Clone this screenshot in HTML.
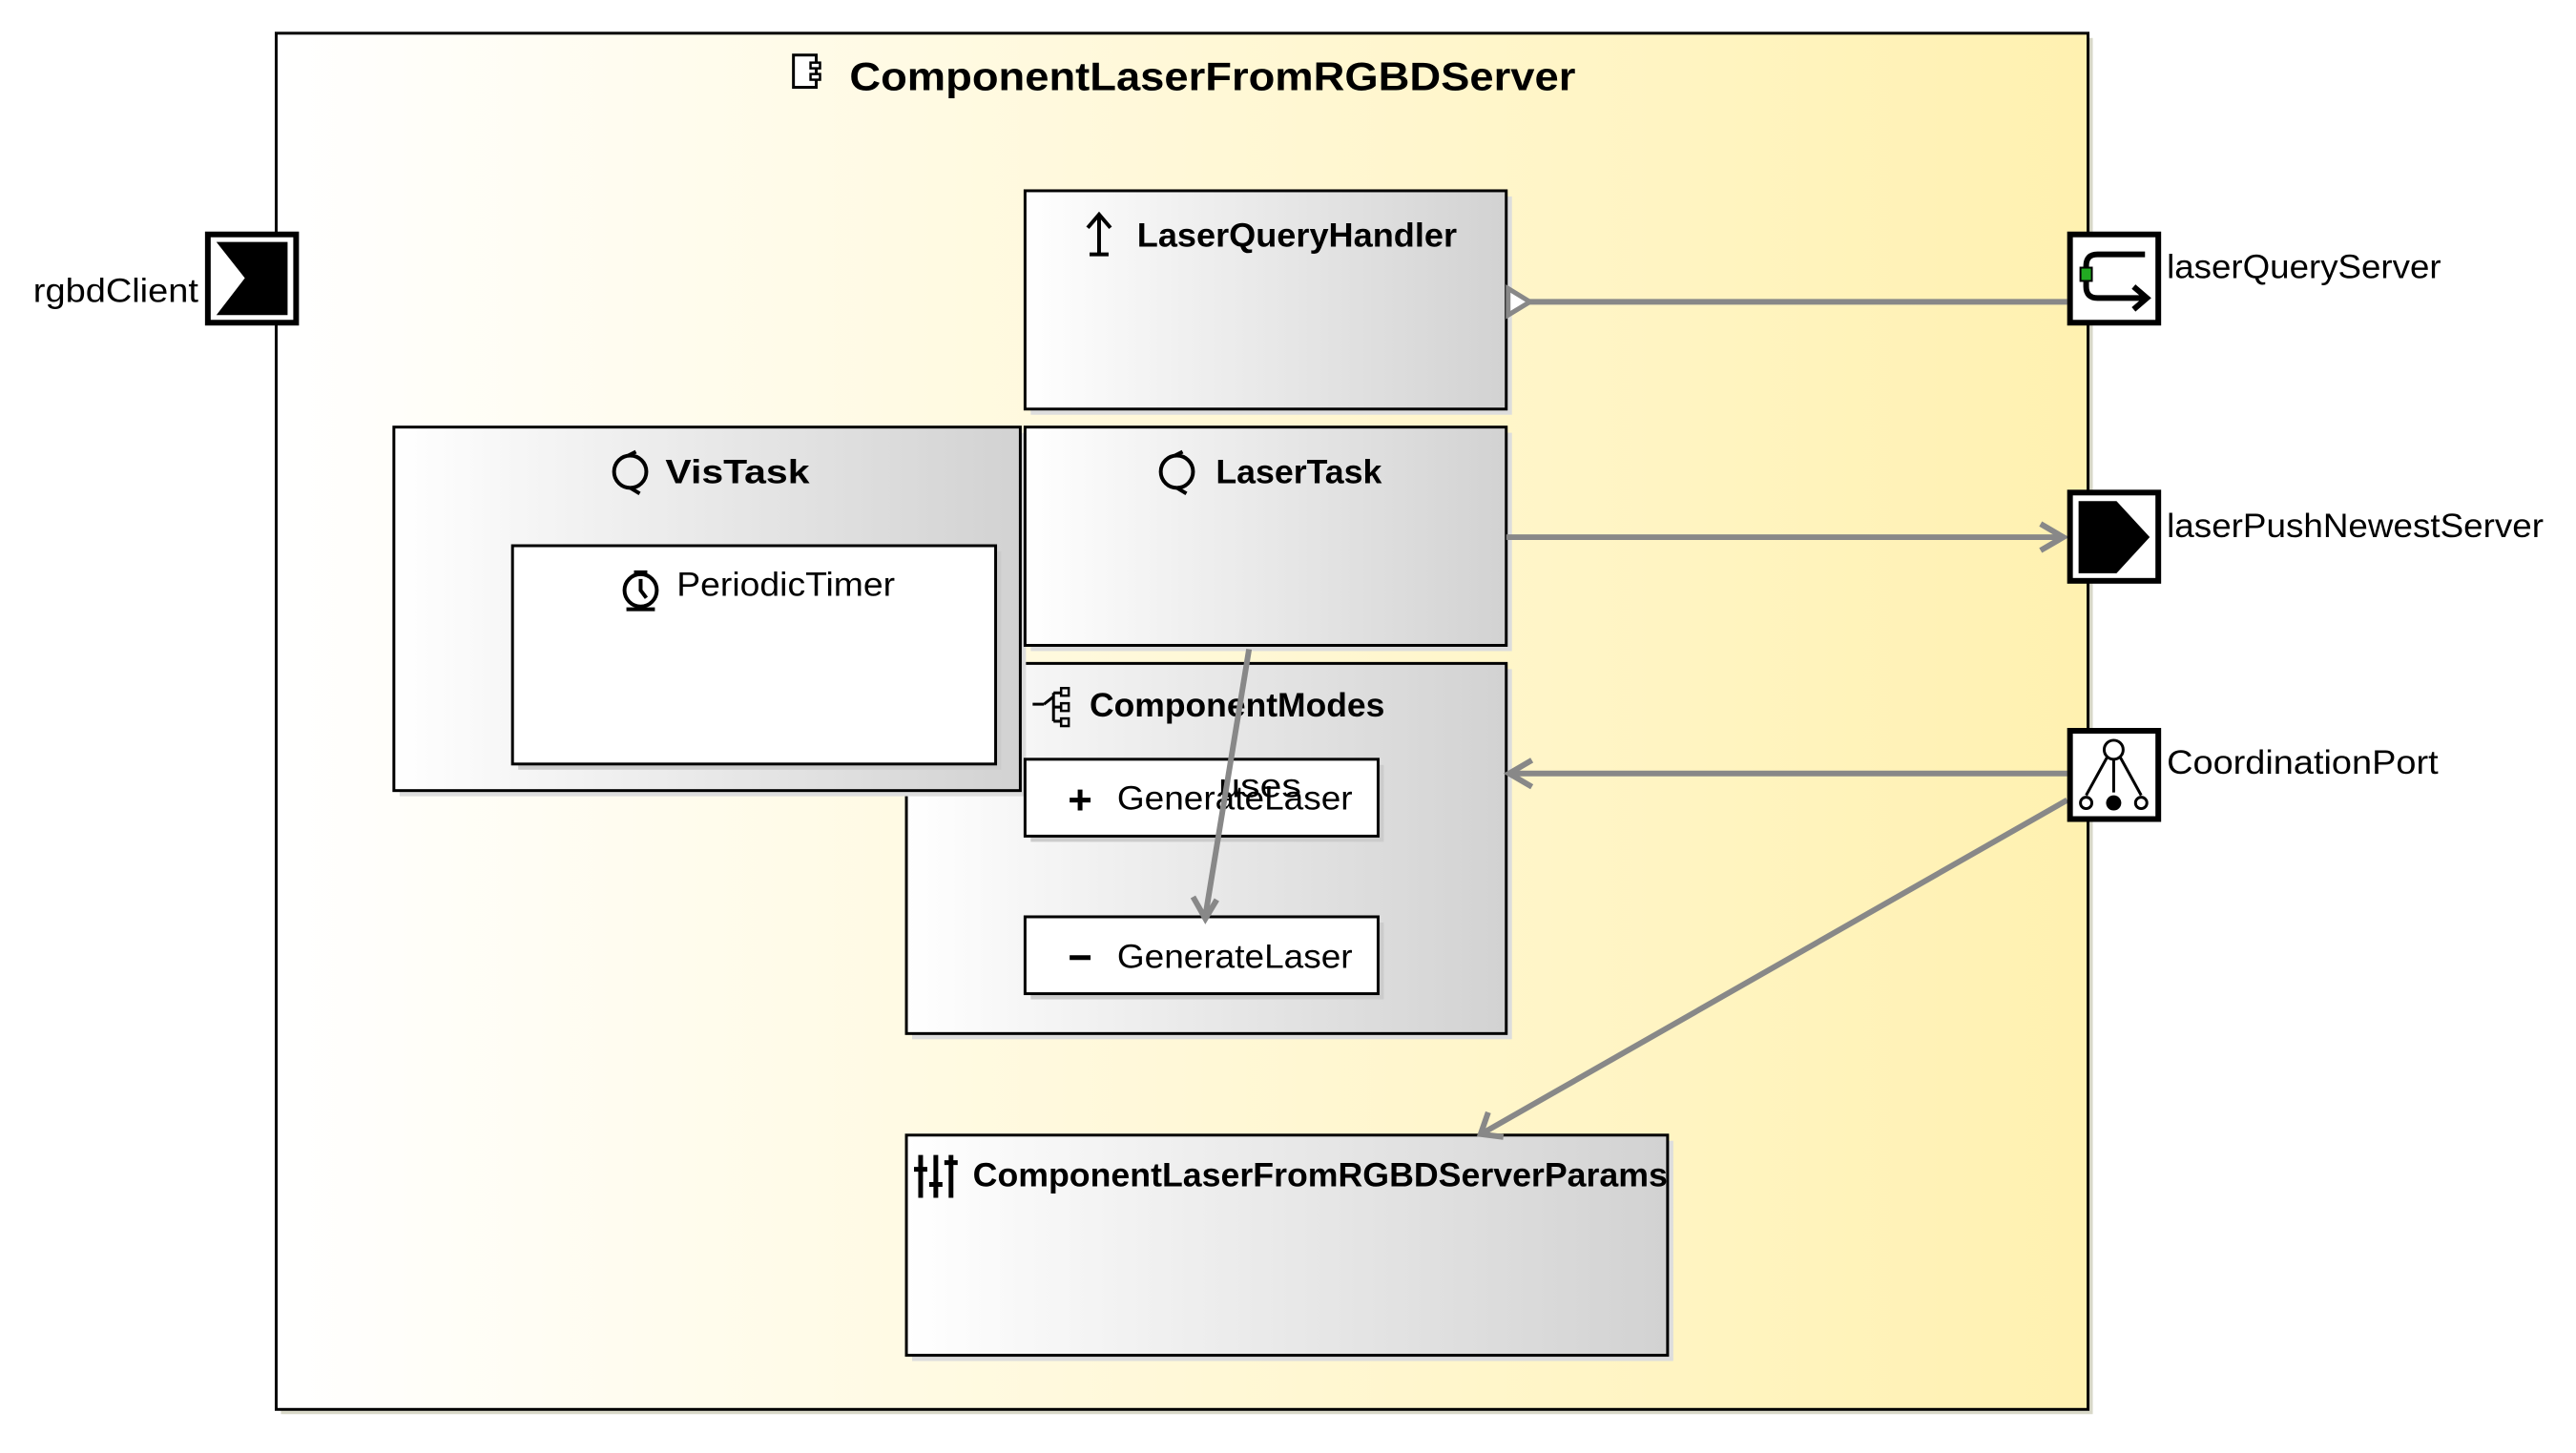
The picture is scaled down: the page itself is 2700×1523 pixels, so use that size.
<!DOCTYPE html>
<html><head><meta charset="utf-8"><style>
html,body{margin:0;padding:0;background:#fff;}
svg{display:block;font-family:"Liberation Sans","DejaVu Sans",sans-serif;}
</style></head><body>
<svg width="2700" height="1523" viewBox="0 0 2700 1523" xmlns="http://www.w3.org/2000/svg">
<defs>
<linearGradient id="yel" x1="0" x2="1" y1="0" y2="0"><stop offset="0" stop-color="#ffffff"/><stop offset="1" stop-color="#fff1b0"/></linearGradient>
<linearGradient id="gr" x1="0" x2="1" y1="0" y2="0"><stop offset="0" stop-color="#ffffff"/><stop offset="1" stop-color="#d2d2d2"/></linearGradient>
</defs>
<g transform="scale(0.9948)">
<!-- outer -->
<rect x="296" y="40" width="1909" height="1450" fill="#d8d8c8"/>
<rect x="291" y="35" width="1909" height="1450" fill="url(#yel)" stroke="#000" stroke-width="3"/>
<g transform="translate(836,58)">
<rect x="0" y="0" width="24" height="34" fill="#fff" stroke="#000" stroke-width="3"/>
<rect x="18" y="8" width="10" height="6" fill="#fff" stroke="#000" stroke-width="2.5"/>
<rect x="18" y="20" width="10" height="6" fill="#fff" stroke="#000" stroke-width="2.5"/>
</g>
<text x="895" y="95" font-size="42" font-weight="bold" textLength="765" lengthAdjust="spacingAndGlyphs">ComponentLaserFromRGBDServer</text>

<!-- boxes with shadows -->
<g stroke="#000" stroke-width="3">
<rect x="1086" y="207" width="507" height="230" fill="#ddd" stroke="none"/>
<rect x="1080" y="201" width="507" height="230" fill="url(#gr)"/>
<rect x="961" y="705" width="632" height="390" fill="#ddd" stroke="none"/>
<rect x="955" y="699" width="632" height="390" fill="url(#gr)"/>
<rect x="421" y="456" width="660" height="383" fill="#ddd" stroke="none"/>
<rect x="415" y="450" width="660" height="383" fill="url(#gr)"/>
<rect x="546" y="581" width="509" height="230" fill="#ccc" stroke="none"/>
<rect x="540" y="575" width="509" height="230" fill="#fff"/>
<rect x="1086" y="456" width="507" height="230" fill="#ddd" stroke="none"/>
<rect x="1080" y="450" width="507" height="230" fill="url(#gr)"/>
<rect x="1086" y="806" width="372" height="81" fill="#ccc" stroke="none"/>
<rect x="1080" y="800" width="372" height="81" fill="#fff"/>
<rect x="1086" y="972" width="372" height="81" fill="#ccc" stroke="none"/>
<rect x="1080" y="966" width="372" height="81" fill="#fff"/>
<rect x="961" y="1202" width="802" height="232" fill="#ddd" stroke="none"/>
<rect x="955" y="1196" width="802" height="232" fill="url(#gr)"/>
</g>

<!-- icons -->
<g stroke="#000" stroke-width="4" fill="none">
<path d="M1158 268 V228 M1146 240 L1158 226 L1170 240 M1148 268 H1168"/>
<circle cx="664" cy="497" r="17"/><path d="M664 514 l10 6 M662 480 l8 -4"/>
<circle cx="1240" cy="497" r="17"/><path d="M1240 514 l10 6 M1238 480 l8 -4"/>
<circle cx="675" cy="622" r="17"/><path d="M675 610 v12 l6 8 M668 603 h14 M660 642 h30"/>
<path d="M1088 742 h12 M1100 742 l10 -8 M1110 730 v30 M1110 730 h8 M1110 745 h8 M1110 760 h8" stroke-width="3"/>
<rect x="1118" y="725" width="8" height="8" stroke-width="2.5"/><rect x="1118" y="741" width="8" height="8" stroke-width="2.5"/><rect x="1118" y="757" width="8" height="8" stroke-width="2.5"/>
<path d="M970 1217 v45 M986 1217 v45 M1002 1217 v45 M963 1232 h14 M979 1248 h14 M995 1225 h14" stroke-width="5"/>
<path d="M1127 843 h22 M1138 832 v22 M1127 1009 h22" stroke-width="5"/>
</g>

<!-- labels -->
<g font-weight="bold" font-size="35">
<text x="1198" y="260" textLength="337" lengthAdjust="spacingAndGlyphs">LaserQueryHandler</text>
<text x="701" y="509" textLength="152" lengthAdjust="spacingAndGlyphs">VisTask</text>
<text x="1281" y="509" textLength="175" lengthAdjust="spacingAndGlyphs">LaserTask</text>
<text x="1148" y="755" textLength="311" lengthAdjust="spacingAndGlyphs">ComponentModes</text>
<text x="1025" y="1250" textLength="732" lengthAdjust="spacingAndGlyphs">ComponentLaserFromRGBDServerParams</text>
</g>
<g font-size="35">
<text x="713" y="628" textLength="230" lengthAdjust="spacingAndGlyphs">PeriodicTimer</text>
<text x="1177" y="853" textLength="248" lengthAdjust="spacingAndGlyphs">GenerateLaser</text>
<text x="1177" y="1020" textLength="248" lengthAdjust="spacingAndGlyphs">GenerateLaser</text>
<text x="1284" y="840" textLength="87" lengthAdjust="spacingAndGlyphs">uses</text>
<text x="35" y="318" textLength="174" lengthAdjust="spacingAndGlyphs">rgbdClient</text>
<text x="2283" y="293" textLength="289" lengthAdjust="spacingAndGlyphs">laserQueryServer</text>
<text x="2283" y="566" textLength="397" lengthAdjust="spacingAndGlyphs">laserPushNewestServer</text>
<text x="2283" y="815" textLength="286" lengthAdjust="spacingAndGlyphs">CoordinationPort</text>
</g>

<!-- connectors -->
<g stroke="#888" stroke-width="6" fill="none">
<line x1="1610" y1="318" x2="2178" y2="318"/>
<line x1="1587" y1="566" x2="2170" y2="566"/>
<path d="M2150 552 L2174 566 L2150 580"/>
<line x1="1595" y1="815" x2="2178" y2="815"/>
<path d="M1614 801 L1590 815 L1614 829"/>
<line x1="2178" y1="843" x2="1562" y2="1194"/>
<path d="M1568 1172 L1560 1195 L1584 1198"/>
<line x1="1316" y1="684" x2="1270" y2="965"/>
<path d="M1257 945 L1270 968 L1282 948"/>
</g>
<path d="M1589 304 L1612 318 L1589 332 Z" fill="#fff" stroke="#888" stroke-width="5"/>

<!-- ports -->
<g stroke="#000" stroke-width="6" fill="#fff">
<rect x="219" y="247" width="93" height="93"/>
<rect x="2181" y="247" width="93" height="93"/>
<rect x="2181" y="519" width="93" height="93"/>
<rect x="2181" y="770" width="93" height="93"/>
</g>
<path d="M228 255 H303 V332 H228 L258 293 Z" fill="#000"/>
<path d="M2190 528 H2230 L2265 566 L2230 604 H2190 Z" fill="#000"/>
<g stroke="#000" stroke-width="6" fill="none">
<path d="M2260 268 H2210 Q2198 268 2198 280 V302 Q2198 314 2210 314 H2260 M2248 302 L2262 314 L2248 326"/>
</g>
<rect x="2192" y="282" width="12" height="14" fill="#22aa22" stroke="#000" stroke-width="2"/>
<g stroke="#000" stroke-width="3" fill="none">
<circle cx="2227" cy="790" r="10"/>
<path d="M2220 798 L2198 838 M2227 800 V835 M2234 798 L2256 838"/>
<circle cx="2198" cy="846" r="6" fill="#fff"/><circle cx="2256" cy="846" r="6" fill="#fff"/>
</g>
<circle cx="2227" cy="846" r="8" fill="#000"/>
</g>
</svg>
</body></html>
